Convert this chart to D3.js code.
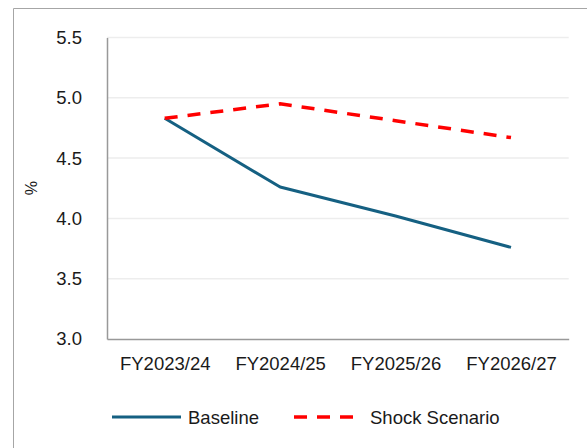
<!DOCTYPE html>
<html>
<head>
<meta charset="utf-8">
<script src="https://cdn.jsdelivr.net/npm/d3@7"></script>
<style>
  body { margin: 0; background: #fff; }
  text { font-family: "Liberation Sans", Arial, sans-serif; fill: #1a1a1a; }
</style>
</head>
<body>
<div class="chart"></div>
<script>
// data
const years = ['FY2023/24', 'FY2024/25', 'FY2025/26', 'FY2026/27']
const baseline = [4.83, 4.26, 4.02, 3.76]
const shock = [4.83, 4.95, 4.81, 4.67]
const yTicks = [3.0, 3.5, 4.0, 4.5, 5.0, 5.5]
const seriesNames = ['Baseline', 'Shock Scenario']

const W = 587, H = 448
const margin = {top: 37.5, right: 18.3, bottom: 109, left: 107},
width = W - margin.left - margin.right,
height = H - margin.top - margin.bottom

const root = d3.select('.chart')
    .append('svg')
    .attr('width', W)
    .attr('height', H)

// outer frame (cut off at right/bottom like the source)
root.append('path')
    .attr('d', `M13.5,${H} V8.5 H${W}`)
    .attr('fill', 'none')
    .attr('stroke', '#a6a6a6')
    .attr('stroke-width', 1)

const svg = root.append('g')
    .attr('transform', 'translate('+margin.left+','+margin.top+')')

const xScale = d3.scalePoint()
    .domain(years)
    .range([0, width])
    .padding(0.5)

const yScale = d3.scaleLinear()
    .domain([3, 5.5])
    .range([height, 0])

// gridlines
svg.append('g')
    .selectAll('line')
    .data(yTicks.slice(1))
    .enter()
    .append('line')
    .attr('x1', 0)
    .attr('x2', width)
    .attr('y1', d => yScale(d))
    .attr('y2', d => yScale(d))
    .attr('stroke', '#ededed')
    .attr('stroke-width', 1.5)

// y axis
const yAxis = g => g
    .call(d3.axisLeft(yScale).tickValues(yTicks).tickFormat(d3.format('.1f')).tickSize(0).tickPadding(25))
    .call(g => g.select('.domain').attr('stroke', '#999').attr('stroke-width', 1.5))
    .call(g => g.selectAll('.tick text')
        .attr('font-size', 18.5)
        .attr('font-family', '"Liberation Sans", Arial, sans-serif')
        .attr('fill', '#1a1a1a'))
svg.append('g').call(yAxis)

// x axis
const xAxis = g => g
    .attr('transform', `translate(0,${height})`)
    .call(d3.axisBottom(xScale).tickSize(0).tickPadding(18))
    .call(g => g.select('.domain').attr('stroke', '#999').attr('stroke-width', 1.5))
    .call(g => g.selectAll('.tick text')
        .attr('font-size', 18.5)
        .attr('font-family', '"Liberation Sans", Arial, sans-serif')
        .attr('fill', '#1a1a1a'))
svg.append('g').call(xAxis)

// y label
svg.append('text')
    .attr('transform', `translate(${-margin.left + 37},${height/2}) rotate(-90)`)
    .attr('text-anchor', 'middle')
    .attr('font-size', 16)
    .text('%')

const line = d3.line()
    .x((d, i) => xScale(years[i]))
    .y(d => yScale(d))

svg.append('path')
    .datum(baseline)
    .attr('d', line)
    .attr('fill', 'none')
    .attr('stroke', '#156082')
    .attr('stroke-width', 3)
    .attr('stroke-linejoin', 'round')

svg.append('path')
    .datum(shock)
    .attr('d', line)
    .attr('fill', 'none')
    .attr('stroke', '#ff0000')
    .attr('stroke-width', 3.5)
    .attr('stroke-dasharray', '13,10')

// legend
const legend = root.append('g')
    .attr('transform', 'translate(0,417)')
const items = [
    {name: seriesNames[0], color: '#156082', dash: null, w: 3, x: 112},
    {name: seriesNames[1], color: '#ff0000', dash: '13,10', w: 3.5, x: 294}
]
items.forEach(it => {
    legend.append('line')
        .attr('x1', it.x).attr('x2', it.x + 69)
        .attr('y1', 0).attr('y2', 0)
        .attr('stroke', it.color)
        .attr('stroke-width', it.w)
        .attr('stroke-dasharray', it.dash)
    legend.append('text')
        .attr('x', it.x + 76)
        .attr('y', 6.5)
        .attr('font-size', 18.5)
        .text(it.name)
})
</script>
</body>
</html>
